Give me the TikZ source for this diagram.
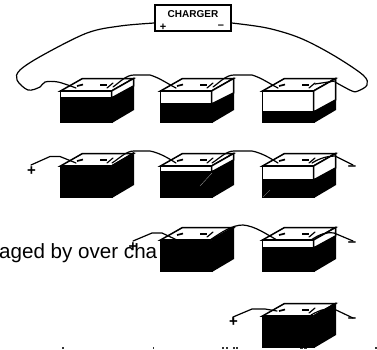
\documentclass[tikz,border=0pt]{standalone}
\usepackage{fontspec}
\setmainfont{Liberation Sans}
\tikzset{
  wire/.style={line width=1.2pt,line join=round,line cap=round},
  case/.style={line width=1.5pt,line join=miter},
  post/.style={line width=1.7pt},
  pole/.style={font=\bfseries\fontsize{15}{15}\selectfont,inner sep=0pt},
  glint/.style={line width=0.3pt,gray!70}
}
\newcommand{\batt}[4]{%
  \fill[black] (#1,#2) rectangle ++(53,32);
  \fill[black] (#1+52,#2) -- ++(22,-12) -- ++(0,31) -- ++(-22,13) -- cycle;
  \draw[case,fill=white] (#1+0.5,#2) -- ++(22,-12.5) -- ++(51,0) -- ++(-22,12.5) -- cycle;
  \draw[case,fill=white] (#1+0.5,#2) rectangle (#1+51.5,#3);
  \draw[case,fill=white] (#1+51.5,#2) -- ++(22,-12.5) -- (#1+73.5,#4) -- (#1+51.5,#3) -- cycle;
  \draw[post] (#1+17,#2-5) -- ++(6,-1.5);
  \draw[post] (#1+40,#2-6) -- ++(7,0);
  \draw[wire] (#1+47,#2-3) -- ++(6,-5);
}
\begin{document}
\begin{tikzpicture}[x=1pt,y=-1pt]
\useasboundingbox (0,0) rectangle (377,349);
\begin{scope}
\clip (0,0) rectangle (377,349);
\node[anchor=base west,inner sep=0pt,font=\fontsize{20.6}{20.6}\selectfont] (txt) at (-1,258) {aged by over cha};
\foreach \x/\w in {62.3/1.3,153/1.3,222/2,226/2,233/2,236/1.5,300/3,304/3,375/1.5}
  \fill[black!80] (\x,347.4) rectangle ++(\w,1.6);
\end{scope}
% charger
\node[draw,line width=1.5pt,minimum width=76pt,minimum height=26pt,inner sep=0pt] (chg) at (193,18) {};
\node[inner sep=0pt,font=\bfseries\fontsize{10}{10}\selectfont] (chgt) at (193,14) {CHARGER};
\node[pole,font=\bfseries\fontsize{11}{11}\selectfont] (cp) at (163,27) {+};
\node[pole,font=\bfseries\fontsize{11}{11}\selectfont] (cm) at (221,26.5) {–};
\coordinate (cl) at (chg.west|-0,23);
\coordinate (cr) at (chg.east|-0,23);
% row 1
\batt{60}{91}{98}{86}
\batt{160}{91}{104}{93}
\batt{262}{91}{112}{100}
\draw[wire] plot[smooth,tension=0.55] coordinates {(cl) (120,26) (87,33) (43,55) (20,70) (17,80) (28,90) (40,87) (45,82) (58,82) (76,88)};
\draw[wire] plot[smooth,tension=0.55] coordinates {(cr) (267,28) (300,38) (333,55) (363,75) (367,85) (358,91) (352,91) (335,82)};
\draw[wire] (335,81) -- (315,84);
\draw[wire] (113,87) .. controls (120,82) and (126,75) .. (134,75) -- (150,75) .. controls (160,78) and (168,84) .. (176,88);
\draw[wire] (213,87) .. controls (220,82) and (226,75) .. (234,75) -- (252,75) .. controls (262,78) and (270,84) .. (278,88);
% row 2
\batt{60}{166}{166}{153}
\batt{160}{166}{172}{160}
\batt{262}{166}{180}{168}
\draw[glint] (200,186) -- (212,173);
\draw[glint] (263,197) -- (270,190);
\node[pole] (p2) at (31.5,171) {+};
\node[pole] (m2) at (352,168) {–};
\draw[wire] (31,165) -- (50,156.5) -- (60,156.5) -- (76,163);
\draw[wire] (112,163) .. controls (120,158) and (126,151) .. (134,151) -- (150,151) .. controls (160,153) and (168,158) .. (176,163);
\draw[wire] (212,163) .. controls (220,158) and (226,151) .. (234,151) -- (252,151) .. controls (262,153) and (270,158) .. (278,163);
\draw[wire] (312,163) .. controls (320,158) and (328,156) .. (335,156) -- (353,165);
% row 3
\batt{160}{240}{240}{228}
\batt{262}{240}{248}{236}
\node[pole] (p3) at (133,247) {+};
\node[pole] (m3) at (352,244) {–};
\draw[wire] (133,241) -- (152,233) -- (162,233) -- (177,240);
\draw[wire] (210,240) .. controls (222,232) and (232,225) .. (243,225) .. controls (255,226) and (266,234) .. (277,240);
\draw[wire] (311,240) .. controls (320,234) and (326,232) .. (334,233) -- (353,241);
% row 4
\batt{262}{316}{316}{304}
\node[pole] (p4) at (233.5,322) {+};
\node[pole] (m4) at (352,320) {–};
\draw[wire] (233,321) -- (233,317) -- (252,309) -- (265,309) -- (277,311);
\draw[wire] (311,315) .. controls (320,310) and (326,308) .. (334,309) -- (353,318);
\end{tikzpicture}
\end{document}
